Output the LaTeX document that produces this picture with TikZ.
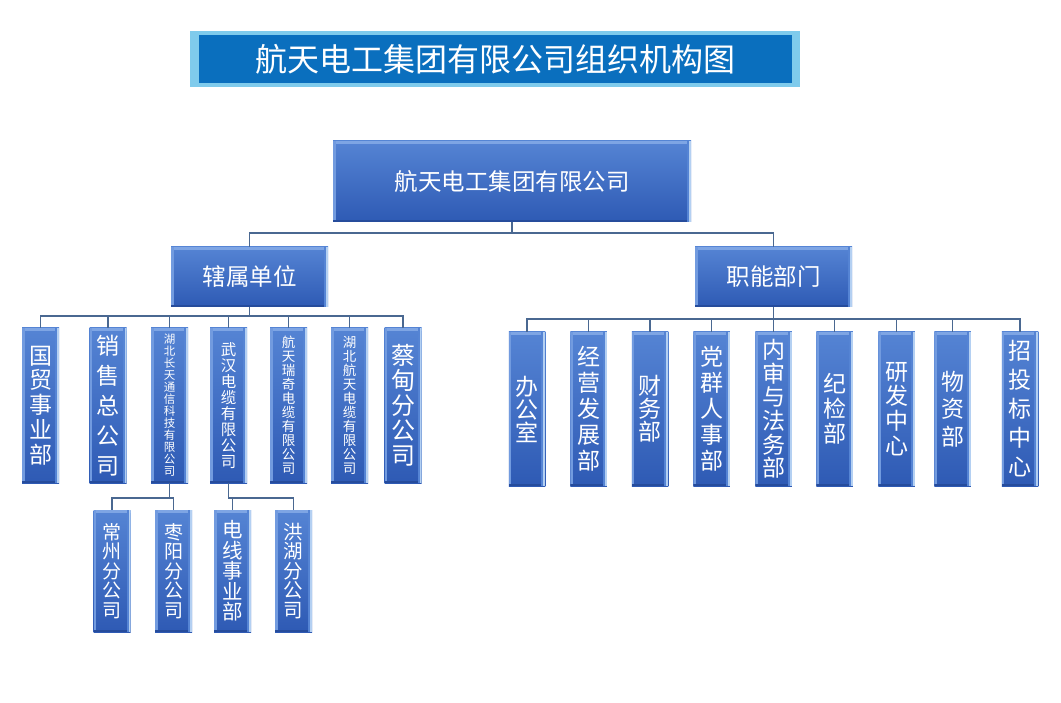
\documentclass[tikz,border=0pt]{standalone}
\usepackage{fontspec}
\setmainfont{Noto Sans CJK SC}
\definecolor{bxA}{HTML}{5584D4}
\definecolor{bxB}{HTML}{2E5AB4}
\definecolor{bxhi}{HTML}{B4D0F2}
\definecolor{bxtop}{HTML}{7EA5E4}
\definecolor{bxdark}{HTML}{264C9C}
\definecolor{connc}{HTML}{4A6891}
\definecolor{ttlout}{HTML}{7FCBEC}
\definecolor{ttlin}{HTML}{0A6FBE}
\tikzset{
  box/.style={inner sep=0pt, text=white, top color=bxA, bottom color=bxB, draw=none, align=center,
    path picture={
      \fill[bxtop] (path picture bounding box.north west) rectangle ([yshift=-3pt]path picture bounding box.north east);
      \fill[bxtop!70!bxA] (path picture bounding box.north west) rectangle ([xshift=2.5pt]path picture bounding box.south west);
      \fill[bxdark] (path picture bounding box.south west) rectangle ([yshift=2pt]path picture bounding box.south east);
      \fill[bxA] ([xshift=-4pt]path picture bounding box.north east) rectangle ([xshift=-2pt]path picture bounding box.south east);
      \fill[bxhi] ([xshift=-2pt]path picture bounding box.north east) rectangle (path picture bounding box.south east);
    }},
  colL/.style={box, minimum width=37pt, minimum height=155pt},
  colG/.style={box, minimum width=37pt, minimum height=122pt},
  colR/.style={box, minimum width=36.5pt, minimum height=154pt},
  fs/.style 2 args={font=\fontsize{#1}{#2}\selectfont},
  conn/.style={draw=connc, line width=1.5pt},
}
\begin{document}
\begin{tikzpicture}[x=1pt,y=-1pt]
\useasboundingbox (0,0) rectangle (1061,703);
\fill[white] (0,0) rectangle (1061,703);
% title
\node[fill=ttlout, minimum width=610pt, minimum height=56pt, inner sep=0pt] (ttlbg) at (495,59) {};
\node[fill=ttlin, minimum width=593pt, minimum height=48pt, inner sep=0pt, text=white, font=\fontsize{32}{36}\selectfont] (ttl) at (495.5,59) {航天电工集团有限公司组织机构图};
% top levels
\node[box, minimum width=358pt, minimum height=81pt, fs={23.5}{26}] (top) at (512,181.5) {航天电工集团有限公司};
\node[box, minimum width=157pt, minimum height=60pt, fs={23.5}{26}] (sub) at (249.5,277) {辖属单位};
\node[box, minimum width=157pt, minimum height=60pt, fs={23.5}{26}] (fun) at (773.5,277) {职能部门};
% left children
\node[colL, fs={23}{24.75}] (a1) at (40.5,405.5) {国\\贸\\事\\业\\部};
\node[colL, fs={23}{30}] (a2) at (108,405.5) {销\\售\\总\\公\\司};
\node[colL, fs={11.5}{12}] (a3) at (169.5,405.5) {湖\\北\\长\\天\\通\\信\\科\\技\\有\\限\\公\\司};
\node[colL, fs={15.5}{16}] (a4) at (228.5,405.5) {武\\汉\\电\\缆\\有\\限\\公\\司};
\node[colL, fs={13.5}{14}] (a5) at (288.5,405.5) {航\\天\\瑞\\奇\\电\\缆\\有\\限\\公\\司};
\node[colL, fs={13.5}{14}] (a6) at (349.5,405.5) {湖\\北\\航\\天\\电\\缆\\有\\限\\公\\司};
\node[colL, fs={24}{25}] (a7) at (403,405.5) {蔡\\甸\\分\\公\\司};
% grandchildren
\node[colG, fs={19}{19.5}] (g1) at (112,571) {常\\州\\分\\公\\司};
\node[colG, fs={19}{19.5}] (g2) at (173.5,571) {枣\\阳\\分\\公\\司};
\node[colG, fs={20.5}{20.5}] (g3) at (232.5,571) {电\\线\\事\\业\\部};
\node[colG, fs={19.5}{19.5}] (g4) at (293.5,571) {洪\\湖\\分\\公\\司};
% right children
\node[colR, fs={23}{23}] (b1) at (527,409) {办\\公\\室};
\node[colR, fs={23}{26}] (b2) at (588.5,409) {经\\营\\发\\展\\部};
\node[colR, fs={23}{23}] (b3) at (650,409) {财\\务\\部};
\node[colR, fs={23}{26}] (b4) at (711.5,409) {党\\群\\人\\事\\部};
\node[colR, fs={23}{23.6}] (b5) at (773.5,409) {内\\审\\与\\法\\务\\部};
\node[colR, fs={23}{25}] (b6) at (834.5,409) {纪\\检\\部};
\node[colR, fs={23}{24.7}] (b7) at (896.5,409) {研\\发\\中\\心};
\node[colR, fs={23}{27.5}] (b8) at (952.5,409) {物\\资\\部};
\node[colR, fs={23}{29}] (b9) at (1020,409) {招\\投\\标\\中\\心};
% connectors
\foreach \c in {sub,fun} \draw[conn] (top.south) -- ++(0,11) -| (\c.north);
\foreach \c in {a1,a2,a3,a4,a5,a6,a7} \draw[conn] (sub.south) -- ++(0,9) -| (\c.north);
\foreach \c in {b1,b2,b3,b4,b5,b6,b7,b8,b9} \draw[conn] (fun.south) -- ++(0,12) -| (\c.north);
\foreach \c in {g1,g2} \draw[conn] (a3.south) -- ++(0,15) -| (\c.north);
\foreach \c in {g3,g4} \draw[conn] (a4.south) -- ++(0,15) -| (\c.north);
\end{tikzpicture}
\end{document}
